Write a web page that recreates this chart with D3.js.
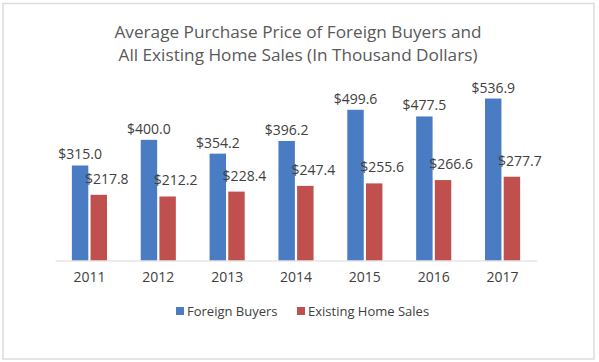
<!DOCTYPE html>
<html lang="en">
<head>
<meta charset="utf-8">
<title>Average Purchase Price</title>
<script src="https://cdn.jsdelivr.net/npm/d3@7/dist/d3.min.js"></script>
<style>
  body { margin: 0; background: #fff; }
  text { font-family: "Open Sans", "Noto Sans", sans-serif; fill: #404040; }
</style>
</head>
<body>
<script>
var years = ["2011", "2012", "2013", "2014", "2015", "2016", "2017"];
var foreignBuyers = [315.0, 400.0, 354.2, 396.2, 499.6, 477.5, 536.9];
var existingHomeSales = [217.8, 212.2, 228.4, 247.4, 255.6, 266.6, 277.7];
var seriesNames = ["Foreign Buyers", "Existing Home Sales"];
var colors = ["#4a7cc4", "#c0504d"];

var w = 599, h = 362;
var svg = d3.select("body").append("svg").attr("width", w).attr("height", h);

// frame
svg.append("rect")
  .attr("x", 3).attr("y", 3.5).attr("width", 591).attr("height", 355.5)
  .attr("fill", "#fff").attr("stroke", "#dcdcdc").attr("stroke-width", 1.5);

// title
var title = svg.append("text")
  .attr("text-anchor", "middle")
  .style("font-size", "17.2px")
  .style("fill", "#595959");
title.append("tspan").attr("x", 298).attr("y", 38).text("Average Purchase Price of Foreign Buyers and");
title.append("tspan").attr("x", 298).attr("y", 61).text("All Existing Home Sales (In Thousand Dollars)");

var x0 = d3.scaleBand().domain(years).range([55, 537]).paddingInner(0.49).paddingOuter(0.245);
var x1 = d3.scaleBand().domain(seriesNames).range([0, x0.bandwidth()]).paddingInner(0.12);
var y = d3.scaleLinear().domain([0, 600]).range([260.5, 79.5]);

var rows = years.map(function(d, i) {
  return { year: d, values: [foreignBuyers[i], existingHomeSales[i]] };
});

var groups = svg.selectAll("g.year")
  .data(rows).enter().append("g")
  .attr("class", "year")
  .attr("transform", function(d) { return "translate(" + x0(d.year) + ",0)"; });

var bars = groups.selectAll("g.bar")
  .data(function(d) {
    return d.values.map(function(v, k) { return { name: seriesNames[k], value: v, k: k }; });
  })
  .enter().append("g").attr("class", "bar");

bars.append("rect")
  .attr("x", function(d) { return x1(d.name); })
  .attr("y", function(d) { return y(d.value); })
  .attr("width", x1.bandwidth())
  .attr("height", function(d) { return y(0) - y(d.value); })
  .attr("fill", function(d) { return colors[d.k]; });

// labels: red ones sit a bit higher and to the right, as in the source
bars.append("text")
  .attr("text-anchor", "middle")
  .attr("x", function(d) { return x1(d.name) + x1.bandwidth() / 2 + (d.k ? 8 : 0); })
  .attr("y", function(d) { return y(d.value) - (d.k ? 11 : 6); })
  .style("font-size", "14px")
  .text(function(d) { return "$" + d.value.toFixed(1); });

// x axis
var xAxis = d3.axisBottom(x0).tickSize(0).tickPadding(12);
var ax = svg.append("g")
  .attr("transform", "translate(0," + y(0) + ")")
  .call(xAxis);
ax.select(".domain").attr("stroke", "#d9d9d9").attr("stroke-width", 1.2);
ax.selectAll("text").style("font-size", "14px").style("fill", "#404040")
  .style("font-family", "'Open Sans', 'Noto Sans', sans-serif");

// legend
var legendX = [176, 297];
var legend = svg.selectAll("g.legend")
  .data(seriesNames).enter().append("g")
  .attr("class", "legend")
  .attr("transform", function(d, i) { return "translate(" + legendX[i] + ",311)"; });
legend.append("rect")
  .attr("x", 0).attr("y", -4).attr("width", 8).attr("height", 8)
  .attr("fill", function(d, i) { return colors[i]; });
legend.append("text")
  .attr("x", 11).attr("y", 5)
  .style("font-size", "13px")
  .text(function(d) { return d; });
</script>
</body>
</html>
